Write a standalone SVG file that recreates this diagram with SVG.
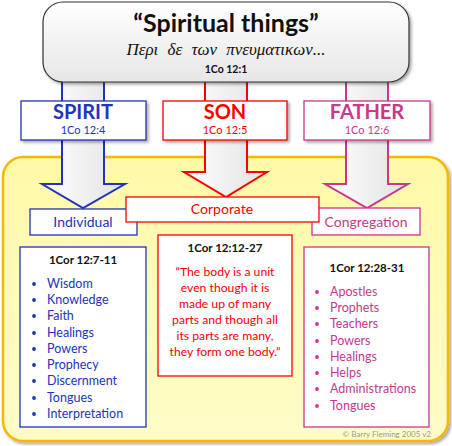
<svg xmlns="http://www.w3.org/2000/svg" width="452" height="446" viewBox="0 0 452 446">
<defs>
<linearGradient id="topg" x1="0" y1="0" x2="0" y2="1"><stop offset="0" stop-color="#ffffff"/><stop offset="1" stop-color="#e6e6e6"/></linearGradient>
<linearGradient id="arrg" x1="0" y1="0" x2="1" y2="0"><stop offset="0" stop-color="#ffffff"/><stop offset="1" stop-color="#e2e2e2"/></linearGradient>
<linearGradient id="yelg" x1="0" y1="0" x2="0" y2="1"><stop offset="0" stop-color="#fff9a8"/><stop offset="1" stop-color="#fffcc8"/></linearGradient>
<filter id="sh" x="-10%" y="-10%" width="130%" height="130%"><feGaussianBlur in="SourceAlpha" stdDeviation="1.5"/><feOffset dx="2" dy="2"/><feComponentTransfer><feFuncA type="linear" slope="0.35"/></feComponentTransfer><feMerge><feMergeNode/><feMergeNode in="SourceGraphic"/></feMerge></filter>
</defs>
<style>
text{font-family:Lato,"Open Sans","Liberation Sans",sans-serif}
.b{fill:#2333bb}.r{fill:#ff0000}.p{fill:#c8388c}.k{fill:#111}
.bs{stroke:#2333bb}.rs{stroke:#ff0000}.ps{stroke:#c8388c}
.box{fill:#fff;stroke-width:1.3}
.name{font-size:20px;font-weight:bold;text-anchor:middle}
.ref{font-size:11px;text-anchor:middle}
.lbl{font-size:14px;text-anchor:middle}
.hd{font-size:11.5px;font-weight:bold;text-anchor:middle;fill:#111}
.li{font-size:12.5px}
.q{font-size:12.2px;text-anchor:middle;fill:#ff0000}
</style>
<g id="body-area">
<rect x="3" y="157" width="445" height="284" rx="20" fill="url(#yelg)" stroke="#f5b800" stroke-width="2.5" filter="url(#sh)"/>
</g>
<g id="connectors">
<path d="M62,60 V184 H42 L83,208 L125,184 H104 V60 Z" fill="url(#arrg)" stroke="#2333bb" stroke-width="2"/>
<path d="M205,60 V172 H184 L226,197 L267,172 H247 V60 Z" fill="url(#arrg)" stroke="#ff0000" stroke-width="2"/>
<path d="M346,60 V184 H325 L367,208 L408,184 H388 V60 Z" fill="url(#arrg)" stroke="#c8388c" stroke-width="2"/>
</g>
<g id="title">
<rect x="43" y="2" width="366" height="80" rx="20" fill="url(#topg)" stroke="#333" stroke-width="1.2" filter="url(#sh)"/>
<text x="226" y="32" text-anchor="middle" font-size="25" font-weight="bold" class="k">“Spiritual things”</text>
<text x="226" y="55" text-anchor="middle" font-size="17" font-style="italic" style="font-family:'Liberation Serif','DejaVu Serif',serif" word-spacing="5" class="k">Περι δε των πνευματικων...</text>
<text x="226" y="73" text-anchor="middle" font-size="10.5" font-weight="bold" class="k">1Co 12:1</text>
</g>
<g id="spirit">
<rect x="21" y="101" width="125" height="39" class="box bs" filter="url(#sh)"/>
<text x="83" y="119" class="name b">SPIRIT</text>
<text x="83" y="134" class="ref b">1Co 12:4</text>
</g>
<g id="son">
<rect x="163" y="101" width="124" height="39" class="box rs" filter="url(#sh)"/>
<text x="225" y="119" class="name r">SON</text>
<text x="225" y="134" class="ref r">1Co 12:5</text>
</g>
<g id="father">
<rect x="304" y="101" width="126" height="39" class="box ps" filter="url(#sh)"/>
<text x="367" y="119" class="name p">FATHER</text>
<text x="367" y="134" class="ref p">1Co 12:6</text>
</g>
<g id="individual">
<rect x="30" y="209" width="107" height="26" class="box bs"/>
<text x="83" y="227" class="lbl b">Individual</text>
</g>
<g id="congregation">
<rect x="312" y="208" width="108" height="27" class="box ps"/>
<text x="366" y="227" class="lbl p">Congregation</text>
</g>
<g id="corporate">
<rect x="126" y="197" width="193" height="25" class="box rs"/>
<text x="222" y="214" class="lbl r">Corporate</text>
</g>
<g id="spirit-gifts">
<rect x="20" y="247" width="126" height="180" class="box bs"/>
<text x="83" y="264" class="hd">1Cor 12:7-11</text>
<g class="b">
<circle cx="34" cy="284" r="1.9"/><circle cx="34" cy="300" r="1.9"/><circle cx="34" cy="316" r="1.9"/><circle cx="34" cy="333" r="1.9"/><circle cx="34" cy="349" r="1.9"/><circle cx="34" cy="365" r="1.9"/><circle cx="34" cy="381" r="1.9"/><circle cx="34" cy="398" r="1.9"/><circle cx="34" cy="414" r="1.9"/>
</g>
<text class="li b" x="47" y="288">Wisdom</text>
<text class="li b" x="47" y="304">Knowledge</text>
<text class="li b" x="47" y="320">Faith</text>
<text class="li b" x="47" y="337">Healings</text>
<text class="li b" x="47" y="353">Powers</text>
<text class="li b" x="47" y="369">Prophecy</text>
<text class="li b" x="47" y="385">Discernment</text>
<text class="li b" x="47" y="402">Tongues</text>
<text class="li b" x="47" y="418">Interpretation</text>
</g>
<g id="son-body">
<rect x="158" y="235" width="134" height="141" class="box rs"/>
<text x="225" y="252" class="hd">1Cor 12:12-27</text>
<text class="q" x="225" y="276">“The body is a unit</text>
<text class="q" x="225" y="292">even though it is</text>
<text class="q" x="225" y="308">made up of many</text>
<text class="q" x="225" y="324">parts and though all</text>
<text class="q" x="225" y="340">its parts are many,</text>
<text class="q" x="225" y="356">they form one body.”</text>
</g>
<g id="father-gifts">
<rect x="304" y="247" width="125" height="180" class="box ps"/>
<text x="367" y="272" class="hd">1Cor 12:28-31</text>
<g class="p">
<circle cx="317" cy="292" r="1.9"/><circle cx="317" cy="308" r="1.9"/><circle cx="317" cy="324" r="1.9"/><circle cx="317" cy="341" r="1.9"/><circle cx="317" cy="357" r="1.9"/><circle cx="317" cy="373" r="1.9"/><circle cx="317" cy="389" r="1.9"/><circle cx="317" cy="406" r="1.9"/>
</g>
<text class="li p" x="330" y="296">Apostles</text>
<text class="li p" x="330" y="312">Prophets</text>
<text class="li p" x="330" y="328">Teachers</text>
<text class="li p" x="330" y="345">Powers</text>
<text class="li p" x="330" y="361">Healings</text>
<text class="li p" x="330" y="377">Helps</text>
<text class="li p" x="330" y="393">Administrations</text>
<text class="li p" x="330" y="410">Tongues</text>
</g>
<text x="431" y="437" text-anchor="end" font-size="8" fill="#999">© Barry Fleming 2005 v2</text>
</svg>
